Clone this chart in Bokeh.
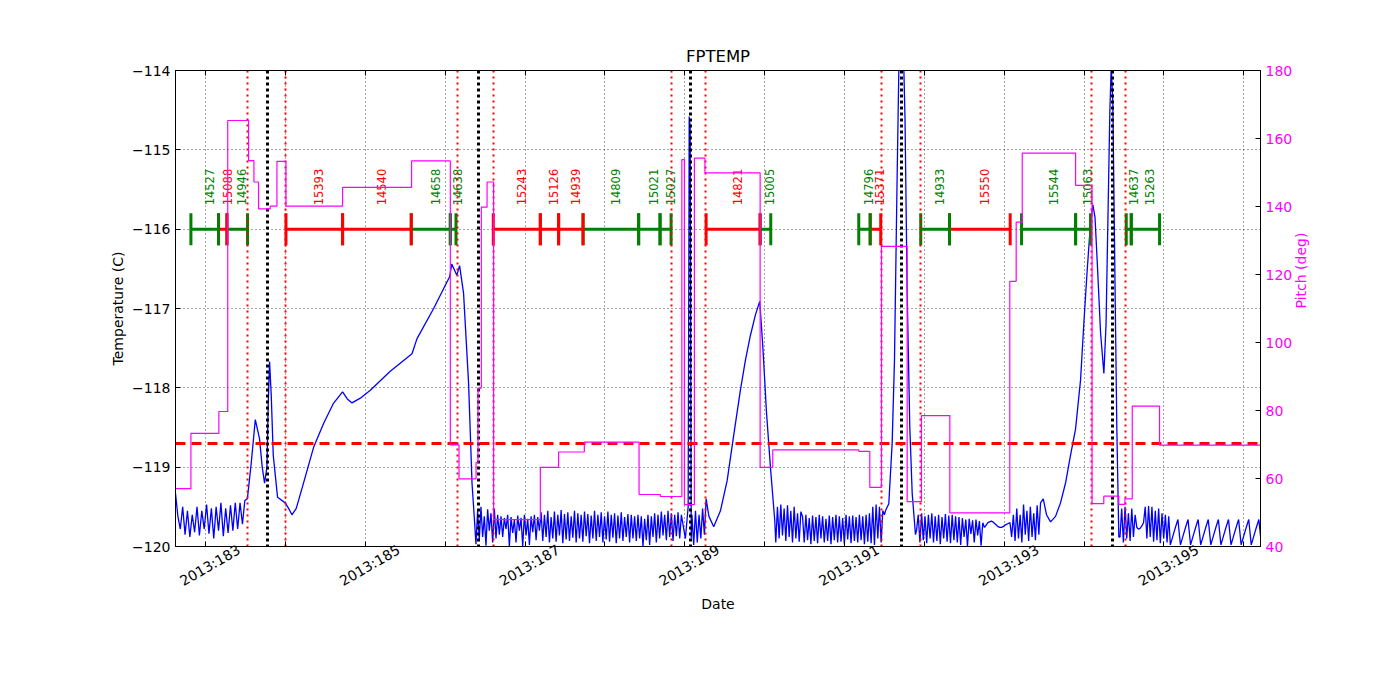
import math
import numpy as np
from bokeh.plotting import figure
from bokeh.models import Range1d, LinearAxis, FixedTicker
from bokeh.core.properties import value
from bokeh.embed import file_html
from bokeh.resources import INLINE

# ---------------- data ----------------
x_limits = [182.624, 196.209]          # day of year 2013
temp_limits = [-120, -114]
pitch_limits = [40, 180]

day_ticks = [183, 184, 185, 186, 187, 188, 189, 190, 191, 192, 193, 194, 195, 196]
date_ticks = [183, 185, 187, 189, 191, 193, 195]
date_labels = ["2013:183", "2013:185", "2013:187", "2013:189", "2013:191", "2013:193", "2013:195"]
temp_ticks = [-120, -119, -118, -117, -116, -115, -114]
temp_tick_labels = ["\u2212120", "\u2212119", "\u2212118", "\u2212117", "\u2212116", "\u2212115", "\u2212114"]
pitch_ticks = [40, 60, 80, 100, 120, 140, 160, 180]

obsids = ["14527", "15088", "14946", "15393", "14540", "14658", "14638", "15243", "15126",
          "14939", "14809", "15021", "15027", "14821", "15005", "14796", "15371", "14933",
          "15550", "15544", "15063", "14637", "15263"]
obs_start = [182.817, 183.163, 183.268, 184.007, 184.716, 185.576, 186.065, 186.603, 187.192,
             187.421, 187.727, 188.423, 188.691, 189.268, 189.944, 191.179, 191.322, 191.955,
             192.315, 193.217, 193.894, 194.528, 194.591]
obs_stop = [183.163, 183.268, 183.526, 184.716, 185.576, 186.065, 186.136, 187.192, 187.421,
            187.727, 188.423, 188.691, 188.829, 189.944, 190.077, 191.322, 191.454, 192.315,
            193.075, 193.894, 194.081, 194.591, 194.945]
obs_color = ["green", "red", "green", "red", "red", "green", "green", "red", "red",
             "red", "green", "green", "green", "red", "green", "green", "red", "green",
             "red", "green", "green", "green", "green"]

radzone_times = [183.526, 184.007, 186.149, 186.607, 188.833, 189.263, 191.459, 191.955, 194.090, 194.523]
perigee_times = [183.777, 186.419, 189.071, 191.710, 194.353]
temp_limit = [-118.7]

pitch_t = [182.624, 182.817, 183.167, 183.278, 183.539, 183.606, 183.664, 183.810, 183.894, 184.007,
           184.716, 185.580, 186.065, 186.174, 186.387, 186.412, 186.453, 186.525, 186.607, 187.192,
           187.421, 187.743, 188.428, 188.695, 188.964, 188.996, 189.121, 189.253, 189.944, 190.102,
           191.179, 191.317, 191.463, 191.785, 191.964, 192.319, 193.070, 193.150, 193.226, 193.894,
           194.100, 194.247, 194.435, 194.511, 194.603, 194.945, 196.209]
pitch_v = [57.0, 73.3, 79.7, 165.3, 153.5, 147.2, 139.3, 140.1, 153.3, 140.1,
           145.6, 153.4, 69.9, 59.9, 64.7, 86.6, 139.8, 147.2, 47.9, 63.3,
           67.8, 70.7, 55.3, 54.7, 153.8, 52.3, 154.2, 149.9, 63.3, 68.4,
           68.0, 57.4, 128.3, 53.2, 78.5, 49.9, 118.0, 135.4, 155.7, 146.2,
           52.6, 54.8, 52.4, 54.0, 81.3, 69.8, 69.8]

# temperature: uniformly sampled noisy stretches + slowly varying stretches
temp_a_span = [182.624, 183.522]
temp_a = [-119.33, -119.62, -119.78, -119.5, -119.85, -119.55, -119.88, -119.6, -119.82, -119.5,
          -119.86, -119.55, -119.78, -119.47, -119.84, -119.52, -119.9, -119.5, -119.8, -119.45,
          -119.87, -119.52, -119.83, -119.48, -119.8, -119.45, -119.78, -119.45, -119.72, -119.42, -119.4]

smooth1_t = [183.526, 183.572, 183.623, 183.676, 183.710, 183.739, 183.769, 183.785, 183.802, 183.823,
             183.848, 183.902, 183.998, 184.040, 184.082, 184.136, 184.224, 184.353, 184.478, 184.599,
             184.716, 184.775, 184.834, 184.938, 185.063, 185.313, 185.585, 185.648, 185.856, 186.056,
             186.083, 186.146, 186.181, 186.231, 186.294, 186.337]
smooth1_v = [-119.38, -118.95, -118.40, -118.64, -119.00, -119.20, -119.00, -118.20, -117.67, -118.10,
             -118.85, -119.38, -119.45, -119.52, -119.60, -119.52, -119.21, -118.75, -118.45, -118.20,
             -118.05, -118.14, -118.19, -118.13, -118.03, -117.79, -117.57, -117.38, -117.00, -116.60,
             -116.44, -116.58, -116.46, -116.81, -117.95, -119.21]

temp_b_span = [186.365, 188.958]
temp_b = [-119.63, -119.97, -119.55, -119.92, -119.5, -119.88, -119.62, -119.99, -119.53, -119.8,
          -119.58, -119.95, -119.52, -119.9, -119.6, -119.85,
          -119.62, -119.88, -119.64, -119.78, -119.6, -120.0, -119.63, -119.83, -119.66, -119.95,
          -119.61, -119.8, -119.64, -120.0, -119.6, -119.86, -119.65, -119.98, -119.62, -119.82,
          -119.6, -119.92, -119.63, -119.8,
          -119.57, -119.93, -119.6, -119.88, -119.55, -119.95, -119.63, -119.9, -119.56, -119.94,
          -119.6, -119.86, -119.54, -119.96, -119.59, -119.91, -119.57, -119.93, -119.62, -119.89,
          -119.55, -119.95, -119.58, -119.9, -119.6, -119.94, -119.56, -119.87, -119.59, -119.96,
          -119.61, -119.9, -119.55, -119.93, -119.6, -119.88, -119.57, -119.95, -119.62, -119.91,
          -119.56, -119.94, -119.6, -119.89, -119.58, -119.96, -119.61, -119.9, -119.57, -119.93,
          -119.63, -119.88, -119.59, -119.95, -119.6, -119.9, -119.62, -119.93, -119.6, -119.9,
          -119.62, -120.0, -119.65, -119.92, -119.6, -119.98, -119.62, -119.88, -119.58, -119.95,
          -119.6, -119.9, -119.56, -119.86, -119.6, -119.92, -119.55, -119.88, -119.58, -119.93,
          -119.6, -119.87, -119.57, -119.9, -119.6]

spike1_t = [189.008, 189.043, 189.056, 189.068, 189.081]
spike1_v = [-119.9, -119.5, -114.58, -114.7, -119.9]

temp_c_span = [189.090, 189.246]
temp_c = [-119.6, -119.98, -119.55, -119.95, -119.6, -119.9, -119.52, -119.85]

smooth2_t = [189.268, 189.303, 189.363, 189.447, 189.531, 189.613, 189.697, 189.760, 189.822, 189.885,
             189.939, 189.979, 190.023, 190.073, 190.127]
smooth2_v = [-119.40, -119.62, -119.75, -119.55, -119.17, -118.60, -118.03, -117.65, -117.34, -117.08,
             -116.91, -117.5, -118.3, -119.0, -119.67]

temp_d_span = [190.140, 191.501]
temp_d = [-119.95, -119.5, -119.9, -119.47, -119.86, -119.52, -119.93, -119.48, -119.88, -119.55,
          -119.95, -119.5, -119.9, -119.58, -119.94, -119.56,
          -119.62, -119.95, -119.6, -119.92, -119.64, -119.97, -119.61, -119.93, -119.63, -119.96,
          -119.6, -119.9, -119.62, -119.95, -119.65, -119.93, -119.61, -119.97, -119.63, -119.92,
          -119.6, -119.95, -119.62, -119.94, -119.64, -119.97, -119.6, -119.91, -119.62, -119.96,
          -119.61, -119.93, -119.63, -119.95, -119.6, -119.92, -119.62, -119.97, -119.6, -119.94,
          -119.58, -119.96,
          -119.5, -119.98, -119.47, -119.9, -119.5, -119.95, -119.55, -119.6]

spike2_t = [191.513, 191.555, 191.597, 191.626, 191.657, 191.682, 191.707, 191.739, 191.758, 191.785,
            191.818, 191.848, 191.889]
spike2_v = [-119.55, -119.46, -118.7, -117.66, -115.5, -113.9, -113.4, -113.8, -114.6, -116.8,
            -118.5, -119.33, -119.85]

temp_e_span = [191.902, 193.455]
temp_e = [-119.8, -119.6, -119.95, -119.58, -119.92, -119.62, -119.96, -119.6, -119.9, -119.58,
          -119.95, -119.62, -119.93, -119.6, -119.97, -119.63, -119.9, -119.59, -119.94, -119.61,
          -119.96, -119.6, -119.92, -119.62, -119.95, -119.63,
          -119.98, -119.64, -119.88, -119.66, -120.0, -119.65, -119.84, -119.67, -119.95, -119.66,
          -119.86, -119.68, -119.99, -119.7,
          -119.76, -119.73, -119.7, -119.69, -119.68, -119.69, -119.71, -119.73, -119.75, -119.76,
          -119.76, -119.75, -119.73, -119.72, -119.71, -119.7,
          -119.88, -119.6, -119.93, -119.52, -119.9, -119.6, -119.95, -119.47, -119.85, -119.55,
          -119.93, -119.5, -119.88, -119.58, -119.92, -119.48, -119.85, -119.45]

smooth3_t = [193.489, 193.530, 193.580, 193.643, 193.705, 193.768, 193.830, 193.893, 193.956, 193.997,
             194.037, 194.075, 194.110, 194.137, 194.169, 194.206, 194.248, 194.275, 194.300, 194.323,
             194.340, 194.360, 194.385, 194.410, 194.435]
smooth3_v = [-119.40, -119.60, -119.69, -119.62, -119.45, -119.20, -118.85, -118.52, -117.90, -117.19,
             -116.55, -116.00, -115.69, -115.85, -116.5, -117.3, -117.82, -117.2, -115.8, -114.5,
             -113.95, -114.4, -116.5, -118.5, -119.88]

temp_f_span = [194.450, 195.060]
temp_f = [-119.88, -119.52, -119.95, -119.5, -119.9, -119.58, -119.93, -119.52, -119.88, -119.6,
          -119.76, -119.78, -119.77, -119.74, -119.7, -119.5, -119.9, -119.49, -119.88, -119.5,
          -119.94, -119.55, -119.92, -119.52, -119.96, -119.58, -119.9, -119.6, -119.95, -119.62]

temp_g_span = [195.080, 196.220]
temp_g = [-119.98, -119.87, -119.76, -119.66, -119.98, -119.87, -119.76, -119.66,
          -119.98, -119.87, -119.76, -119.66, -119.98, -119.87, -119.76, -119.66,
          -119.98, -119.87, -119.76, -119.66, -119.98, -119.87, -119.76, -119.66,
          -119.98, -119.87, -119.76, -119.66, -119.98, -119.87, -119.76, -119.66,
          -119.98, -119.87, -119.76, -119.66, -119.98]


def sampled(span, vals):
    return list(np.linspace(span[0], span[1], len(vals))), list(vals)


pieces = [sampled(temp_a_span, temp_a), (smooth1_t, smooth1_v), sampled(temp_b_span, temp_b),
          (spike1_t, spike1_v), sampled(temp_c_span, temp_c), (smooth2_t, smooth2_v),
          sampled(temp_d_span, temp_d), (spike2_t, spike2_v), sampled(temp_e_span, temp_e),
          (smooth3_t, smooth3_v), sampled(temp_f_span, temp_f), sampled(temp_g_span, temp_g)]
temp_t = [t for pt, pv in pieces for t in pt]
temp_v = [v for pt, pv in pieces for v in pv]

# ---------------- layout / style ----------------
FONT = "DejaVu Sans"
LAB_SHIFT = 0.42   # shift of the rotated date labels (matplotlib centres them on the tick)
BAR_Y = -116.0
LABEL_Y = -115.7

p = figure(width=1384, height=684,
           x_range=Range1d(x_limits[0], x_limits[1]),
           y_range=Range1d(temp_limits[0], temp_limits[1]),
           output_backend="svg", toolbar_location=None,
           min_border_left=175, min_border_right=124, min_border_top=70, min_border_bottom=138,
           title="FPTEMP")
p.extra_y_ranges = {"pitch": Range1d(pitch_limits[0], pitch_limits[1])}
p.extra_x_ranges = {"lab": Range1d(x_limits[0] - LAB_SHIFT, x_limits[1] - LAB_SHIFT)}
p.background_fill_color = "white"
p.border_fill_color = "white"
p.outline_line_color = "black"
p.outline_line_width = 1
p.outline_line_alpha = 1

p.title.align = "center"
p.title.text_font = FONT
p.title.text_font_size = "16.5px"
p.title.text_font_style = "normal"
p.title.text_color = "black"


def base_style(ax):
    ax.major_tick_in = 5
    ax.major_tick_out = 0
    ax.minor_tick_line_color = None
    ax.major_tick_line_color = "black"
    ax.axis_line_color = "black"
    ax.major_label_text_font = FONT
    ax.major_label_text_font_size = "14px"
    ax.major_label_text_color = "black"
    ax.axis_label_text_font = FONT
    ax.axis_label_text_font_size = "14px"
    ax.axis_label_text_font_style = "normal"
    ax.axis_label_text_color = "black"


def ticks_only(ax):
    ax.major_label_text_color = None
    ax.major_label_text_font_size = "0px"
    ax.major_label_standoff = 0


# bottom axis: tick marks only
xb = p.below[0]
base_style(xb)
xb.ticker = FixedTicker(ticks=day_ticks)
ticks_only(xb)

# left axis
yl = p.left[0]
base_style(yl)
yl.ticker = FixedTicker(ticks=temp_ticks)
yl.major_label_overrides = {t: s for t, s in zip(temp_ticks, temp_tick_labels)}
yl.axis_label = "Temperature (C)"
yl.major_label_standoff = 5
yl.axis_label_standoff = 3

# top axis: tick marks only
xt = LinearAxis(ticker=FixedTicker(ticks=day_ticks))
base_style(xt)
ticks_only(xt)
p.add_layout(xt, "above")

# right axis (pitch)
yr = LinearAxis(y_range_name="pitch", ticker=FixedTicker(ticks=pitch_ticks))
base_style(yr)
yr.major_label_text_color = "magenta"
yr.axis_label = "Pitch (deg)"
yr.axis_label_text_color = "magenta"
yr.major_label_standoff = 5
yr.axis_label_standoff = 6
try:
    yr.axis_label_orientation = math.pi / 2
except Exception:
    pass
p.add_layout(yr, "right")

# rotated date labels
xl = LinearAxis(x_range_name="lab", ticker=FixedTicker(ticks=date_ticks))
base_style(xl)
xl.major_tick_in = 0
xl.major_tick_out = 0
xl.axis_line_color = None
xl.major_label_overrides = {t: s for t, s in zip(date_ticks, date_labels)}
xl.major_label_orientation = math.pi / 6
xl.major_label_standoff = 2
xl.axis_label = "Date"
xl.axis_label_standoff = -3
p.add_layout(xl, "below")

# grids
p.xgrid.ticker = FixedTicker(ticks=day_ticks)
p.ygrid.ticker = FixedTicker(ticks=temp_ticks)
for g in (p.xgrid[0], p.ygrid[0]):
    g.grid_line_color = "black"
    g.grid_line_dash = "1 3"
    g.grid_line_width = 0.8
    g.grid_line_alpha = 0.9

# ---------------- glyphs ----------------
p.line(temp_t, temp_v, line_color="blue", line_width=1.3)

obs_mid = [(a + b) / 2 for a, b in zip(obs_start, obs_stop)]
p.segment(x0=obs_start, y0=BAR_Y, x1=obs_stop, y1=BAR_Y, line_color=obs_color, line_width=3)
p.scatter(x=obs_start + obs_stop, y=BAR_Y, marker="dash", size=32, angle=math.pi / 2,
          line_color=obs_color + obs_color, line_width=3)
p.text(x=obs_mid, y=LABEL_Y, text=obsids, angle=math.pi / 2, text_align="left",
       text_baseline="top", text_color=obs_color, text_font=value(FONT), text_font_size="11.5px")

p.vspan(x=radzone_times, line_color="red", line_width=2, line_dash="2 4")
p.vspan(x=perigee_times, line_color="black", line_width=3, line_dash="3 3")
p.hspan(y=temp_limit, line_color="red", line_width=3, line_dash="10 6")

p.step(pitch_t, pitch_v, mode="after", line_color="magenta", line_width=1.2, y_range_name="pitch")

open("out.html", "w").write(file_html(p, INLINE))
